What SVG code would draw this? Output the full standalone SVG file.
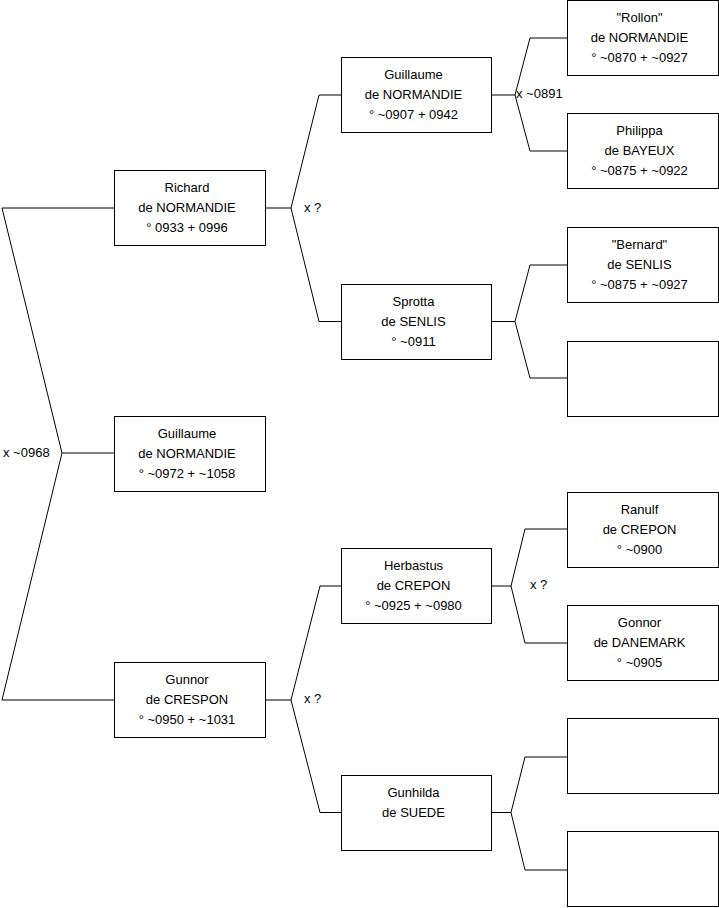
<svg xmlns="http://www.w3.org/2000/svg" width="719" height="908" viewBox="0 0 719 908">
<style>
.box{fill:#fff;stroke:#000;stroke-width:1}
.c{fill:none;stroke:#000;stroke-width:1}
text{font-family:"Liberation Sans",Arial,sans-serif;font-size:13px;fill:#000}
.t{text-anchor:middle}
</style>
<rect x="0" y="0" width="719" height="908" fill="#fff"/>
<g id="connectors">
<polyline class="c" points="114,208 2,208 62,453 2,700 114,700"/>
<line class="c" x1="62" y1="453" x2="114" y2="453"/>
<text x="3" y="457">x ~0968</text>
<line class="c" x1="265" y1="208" x2="291" y2="208"/>
<polyline class="c" points="341,95 319,95 291,208 319,321.5 341,321.5"/>
<text x="304" y="211.5">x ?</text>
<line class="c" x1="265" y1="700" x2="291" y2="700"/>
<polyline class="c" points="341,586 320,586 291,700 320,812.5 341,812.5"/>
<text x="304" y="702.5">x ?</text>
<line class="c" x1="491" y1="95" x2="515" y2="95"/>
<polyline class="c" points="567,38 530,38 515,95 530,151 567,151"/>
<text x="516" y="98">x ~0891</text>
<line class="c" x1="491" y1="321.5" x2="515" y2="321.5"/>
<polyline class="c" points="567,265 530,265 515,321.5 530,378 567,378"/>
<line class="c" x1="491" y1="586" x2="511" y2="586"/>
<polyline class="c" points="567,529 525,529 511,586 525,643 567,643"/>
<text x="530" y="588.5">x ?</text>
<line class="c" x1="491" y1="812.5" x2="511" y2="812.5"/>
<polyline class="c" points="567,757 525,757 511,812.5 525,870 567,870"/>
</g>
<g id="richard">
<rect class="box" x="114.5" y="170.5" width="151" height="75"/>
<text class="t" x="187" y="192">Richard</text>
<text class="t" x="187" y="212">de NORMANDIE</text>
<text class="t" x="187" y="232">° 0933 + 0996</text>
</g>
<g id="guillaume1">
<rect class="box" x="114.5" y="416.5" width="151" height="75"/>
<text class="t" x="187" y="437.5">Guillaume</text>
<text class="t" x="187" y="457.5">de NORMANDIE</text>
<text class="t" x="187" y="477.5">° ~0972 + ~1058</text>
</g>
<g id="gunnor">
<rect class="box" x="114.5" y="662.5" width="151" height="75"/>
<text class="t" x="187" y="684">Gunnor</text>
<text class="t" x="187" y="704">de CRESPON</text>
<text class="t" x="187" y="724">° ~0950 + ~1031</text>
</g>
<g id="guillaume2">
<rect class="box" x="341.5" y="57.5" width="150" height="75"/>
<text class="t" x="413.5" y="79">Guillaume</text>
<text class="t" x="413.5" y="99">de NORMANDIE</text>
<text class="t" x="413.5" y="119">° ~0907 + 0942</text>
</g>
<g id="sprotta">
<rect class="box" x="341.5" y="284.5" width="150" height="75"/>
<text class="t" x="413.5" y="305.5">Sprotta</text>
<text class="t" x="413.5" y="325.5">de SENLIS</text>
<text class="t" x="413.5" y="345.5">° ~0911</text>
</g>
<g id="herbastus">
<rect class="box" x="341.5" y="548.5" width="150" height="75"/>
<text class="t" x="413.5" y="570">Herbastus</text>
<text class="t" x="413.5" y="590">de CREPON</text>
<text class="t" x="413.5" y="610">° ~0925 + ~0980</text>
</g>
<g id="gunhilda">
<rect class="box" x="341.5" y="775.5" width="150" height="75"/>
<text class="t" x="413.5" y="796.5">Gunhilda</text>
<text class="t" x="413.5" y="816.5">de SUEDE</text>
</g>
<g id="rollon">
<rect class="box" x="567.5" y="0.5" width="151" height="75"/>
<text class="t" x="639.5" y="22">"Rollon"</text>
<text class="t" x="639.5" y="42">de NORMANDIE</text>
<text class="t" x="639.5" y="62">° ~0870 + ~0927</text>
</g>
<g id="philippa">
<rect class="box" x="567.5" y="113.5" width="151" height="75"/>
<text class="t" x="639.5" y="135">Philippa</text>
<text class="t" x="639.5" y="155">de BAYEUX</text>
<text class="t" x="639.5" y="175">° ~0875 + ~0922</text>
</g>
<g id="bernard">
<rect class="box" x="567.5" y="227.5" width="151" height="75"/>
<text class="t" x="639.5" y="249">"Bernard"</text>
<text class="t" x="639.5" y="269">de SENLIS</text>
<text class="t" x="639.5" y="289">° ~0875 + ~0927</text>
</g>
<g id="empty1">
<rect class="box" x="567.5" y="341.5" width="151" height="75"/>
</g>
<g id="ranulf">
<rect class="box" x="567.5" y="492.5" width="151" height="75"/>
<text class="t" x="639.5" y="514">Ranulf</text>
<text class="t" x="639.5" y="534">de CREPON</text>
<text class="t" x="639.5" y="554">° ~0900</text>
</g>
<g id="gonnor">
<rect class="box" x="567.5" y="605.5" width="151" height="75"/>
<text class="t" x="639.5" y="627">Gonnor</text>
<text class="t" x="639.5" y="647">de DANEMARK</text>
<text class="t" x="639.5" y="667">° ~0905</text>
</g>
<g id="empty2">
<rect class="box" x="567.5" y="718.5" width="151" height="75"/>
</g>
<g id="empty3">
<rect class="box" x="567.5" y="831.5" width="151" height="75"/>
</g>
</svg>
